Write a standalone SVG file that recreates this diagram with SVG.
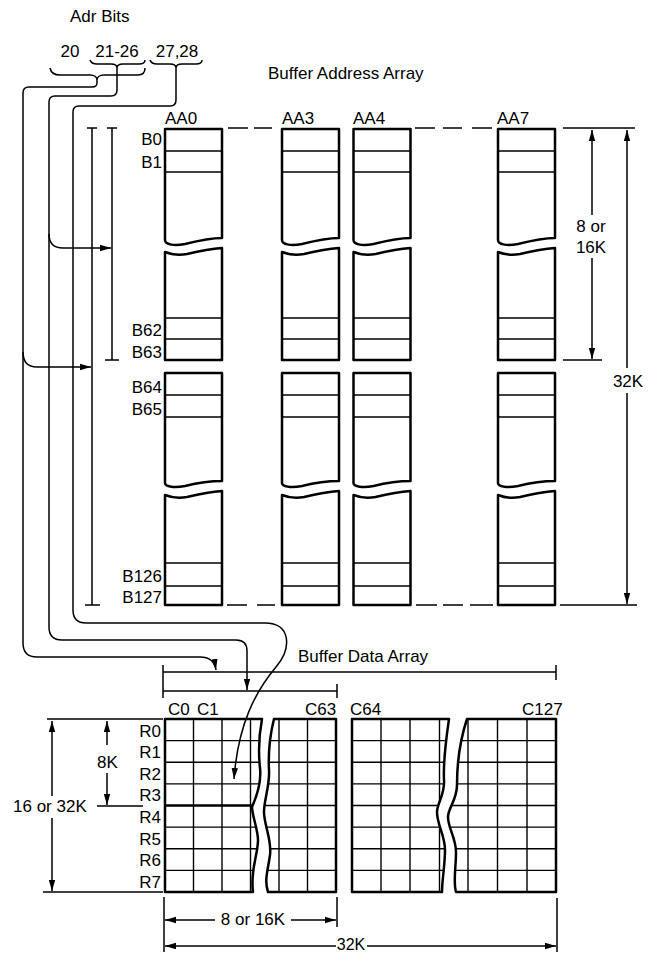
<svg xmlns="http://www.w3.org/2000/svg" xmlns:xlink="http://www.w3.org/1999/xlink" width="655" height="955" viewBox="0 0 655 955">
<style>
.t{font-family:"Liberation Sans",Arial,sans-serif;font-size:17px;fill:#000}
.e{text-anchor:end}
.m{text-anchor:middle}
.blk{fill:#fff;stroke:#000;stroke-width:2.5;stroke-linejoin:round}
.row{stroke:#000;stroke-width:1.4;fill:none}
.ln{stroke:#000;stroke-width:1.5;fill:none}
.ar{marker-end:url(#ah)}
</style>
<defs>
<marker id="ah" markerUnits="userSpaceOnUse" markerWidth="12" markerHeight="8" refX="11" refY="4" orient="auto"><path d="M0,0.8 L11,4 L0,7.2 Z" fill="#000"/></marker>
<g id="aacol">
<path class="blk" d="M0,129 H57 V238 C45,238 32,241 20,244 C10,246 0,245 0,240 Z"/>
<path class="row" d="M0,151 H57 M0,172 H57"/>
<path class="blk" d="M0,252 C5,254 12,256 22,254 C35,251 45,249 57,248 V360 H0 Z"/>
<path class="row" d="M0,318 H57 M0,339 H57"/>
<path class="blk" d="M0,373 H57 V481 C45,481 32,483 20,486 C10,488 0,487 0,483 Z"/>
<path class="row" d="M0,395 H57 M0,417 H57"/>
<path class="blk" d="M0,495 C5,497 12,499 22,497 C35,494 45,492 57,491 V605 H0 Z"/>
<path class="row" d="M0,563 H57 M0,586 H57"/>
</g>
<clipPath id="clipA">
<path d="M165,719 H262 C259,735 258,750 260,768 C262,785 255,800 252,807 C252,815 258,830 258,840 C258,855 250,870 253,892 H165 Z"/>
<path d="M274,719 C270,735 268,750 269,770 C270,785 264,800 264,812 C264,825 272,840 270,855 C268,870 264,880 268,892 H336 V719 Z"/>
</clipPath>
<clipPath id="clipB">
<path d="M352,719 H449 C446,740 443,760 444,780 C445,795 437,803 437,812 C437,825 445,835 445,850 C445,865 442,880 442,892 H352 Z"/>
<path d="M467,719 C460,740 457,760 457,785 C457,800 448,808 448,817 C448,828 456,838 456,852 C456,868 453,882 456,892 H556 V719 Z"/>
</clipPath>
</defs>
<rect width="655" height="955" fill="#fff"/>

<g id="titles">
<text class="t" x="70" y="22">Adr Bits</text>
<text class="t m" x="70" y="57">20</text>
<text class="t m" x="117" y="57">21-26</text>
<text class="t m" x="177" y="57">27,28</text>
<text class="t" x="268" y="79">Buffer Address Array</text>
<text class="t" x="298" y="662">Buffer Data Array</text>
</g>

<g id="AA0">
<use xlink:href="#aacol" x="165"/>
<text class="t" x="165" y="124">AA0</text>
<text class="t e" x="162" y="145">B0</text>
<text class="t e" x="162" y="168">B1</text>
<text class="t e" x="162" y="336">B62</text>
<text class="t e" x="162" y="358">B63</text>
<text class="t e" x="162" y="393">B64</text>
<text class="t e" x="162" y="415">B65</text>
<text class="t e" x="162" y="582">B126</text>
<text class="t e" x="162" y="603">B127</text>
</g>
<g id="AA3">
<use xlink:href="#aacol" x="282"/>
<text class="t" x="282" y="124">AA3</text>
</g>
<g id="AA4">
<use xlink:href="#aacol" x="353.5"/>
<text class="t" x="353" y="124">AA4</text>
</g>
<g id="AA7">
<use xlink:href="#aacol" x="498"/>
<text class="t" x="497" y="124">AA7</text>
</g>

<g id="aa-dashes" class="ln">
<path d="M228,128 H248 M254,128 H272 M415,128 H435 M443,128 H462 M472,128 H492"/>
<path d="M227,605 H247 M257,605 H275 M416,605 H437 M443,605 H463 M470,605 H493"/>
</g>

<g id="aa-dims">
<path class="ln" d="M563,128 H635 M563,360 H602 M560,605 H637"/>
<path class="ln ar" d="M592,215 V130"/>
<path class="ln ar" d="M592,258 V359"/>
<path class="ln ar" d="M627,368 V130"/>
<path class="ln ar" d="M627,393 V604"/>
<text class="t m" x="591" y="232">8 or</text>
<text class="t m" x="591" y="253">16K</text>
<text class="t m" x="628" y="387">32K</text>
</g>

<g id="brackets">
<path class="ln" d="M92,128 V605 M87,128 H97 M85,605 H100"/>
<path class="ln" d="M112,128 V360 M107,128 H117 M105,360 H119"/>
</g>

<g id="data-brackets">
<path class="ln" d="M163,665 V698 M163,672 H556 M556,665 V680 M163,691 H337 M337,684 V698"/>
</g>

<g id="blockA">
<g clip-path="url(#clipA)" class="row">
<path d="M193.5,719 V892 M222,719 V892 M250.5,719 V892 M279,719 V892 M307.5,719 V892"/>
<path d="M165,740.6 H336 M165,762.2 H336 M165,783.9 H336 M165,827.1 H336 M165,848.7 H336 M165,870.4 H336"/>
<path d="M165,805.5 H262" stroke-width="2.3"/>
<path d="M262,805.5 H336"/>
</g>
<path class="blk" style="fill:none" d="M165,719 H262 C259,735 258,750 260,768 C262,785 255,800 252,807 C252,815 258,830 258,840 C258,855 250,870 253,892 H165 Z"/>
<path class="blk" style="fill:none" d="M274,719 C270,735 268,750 269,770 C270,785 264,800 264,812 C264,825 272,840 270,855 C268,870 264,880 268,892 H336 V719 Z"/>
<text class="t" x="168" y="715">C0</text>
<text class="t" x="197" y="715">C1</text>
<text class="t" x="305" y="715">C63</text>
<text class="t e" x="161" y="737">R0</text>
<text class="t e" x="161" y="758">R1</text>
<text class="t e" x="161" y="780">R2</text>
<text class="t e" x="161" y="801">R3</text>
<text class="t e" x="161" y="823">R4</text>
<text class="t e" x="161" y="845">R5</text>
<text class="t e" x="161" y="866">R6</text>
<text class="t e" x="161" y="888">R7</text>
</g>

<g id="blockB">
<g clip-path="url(#clipB)" class="row">
<path d="M381,719 V892 M410,719 V892 M439.5,719 V892 M468,719 V892 M497.5,719 V892 M527,719 V892"/>
<path d="M352,740.6 H556 M352,762.2 H556 M352,783.9 H556 M352,805.5 H556 M352,827.1 H556 M352,848.7 H556 M352,870.4 H556"/>
</g>
<path class="blk" style="fill:none" d="M352,719 H449 C446,740 443,760 444,780 C445,795 437,803 437,812 C437,825 445,835 445,850 C445,865 442,880 442,892 H352 Z"/>
<path class="blk" style="fill:none" d="M467,719 C460,740 457,760 457,785 C457,800 448,808 448,817 C448,828 456,838 456,852 C456,868 453,882 456,892 H556 V719 Z"/>
<text class="t" x="350" y="715">C64</text>
<text class="t" x="522" y="715">C127</text>
</g>

<g id="data-dims">
<path class="ln" d="M47,719 H163 M43,892 H163 M97,806 H143"/>
<path class="ln ar" d="M52,796 V721"/>
<path class="ln ar" d="M52,818 V891"/>
<path class="ln ar" d="M107,745 V721"/>
<path class="ln ar" d="M107,773 V805"/>
<text class="t" x="13" y="812">16 or 32K</text>
<text class="t m" x="107.5" y="768">8K</text>
<path class="ln" d="M164,897 V952 M337,897 V927 M557,898 V952"/>
<path class="ln ar" d="M215,920 H165"/>
<path class="ln ar" d="M291,920 H336"/>
<path class="ln ar" d="M336,946 H165"/>
<path class="ln ar" d="M367,946 H556"/>
<text class="t m" x="253" y="925">8 or 16K</text>
<text class="t m" style="font-size:16px" x="351" y="950">32K</text>
</g>

<g id="connectors" class="ln">
<path d="M50,68 C51,73 54,75 60,75 H90 C94,75 97,77 97,80 C97,77 100,75 104,75 H138 C142,75 145,73 145,68"/>
<path d="M90,60 C91,63 93,64 97,64 H111 C115,64 117,65 117,68 C117,65 119,64 123,64 H139 C143,64 145,63 145,60"/>
<path d="M150,60 C151,63 153,64 157,64 H170 C174,64 176,65 176,68 C176,65 178,64 182,64 H196 C200,64 202,63 202,60"/>
<path class="ar" d="M97,80 V83 Q97,87 92,87 H29 Q23,87 23,93 V643 Q23,657 37,657 H200 Q214,657 216,670"/>
<path class="ar" d="M23,352 Q23,367 37,367 H91"/>
<path class="ar" d="M117,68 V90 Q117,96 111,96 H55 Q49,96 49,102 V627 Q49,640 62,640 H236 Q247,640 247,651 V690"/>
<path class="ar" d="M49,234 Q49,248 63,248 H111"/>
<path class="ar" d="M176,68 V100 Q176,106 170,106 H79 Q73,106 73,112 V610 Q73,623 86,623 H265 C291,623 292,648 276,667 C255,692 238,725 234,779"/>
</g>
</svg>
